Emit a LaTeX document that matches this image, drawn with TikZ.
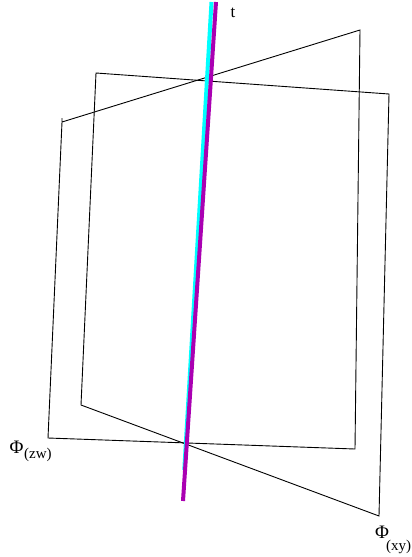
\documentclass[tikz,border=0pt]{standalone}
\usepackage{fontspec}
\setmainfont{Liberation Serif}
\definecolor{axiscyan}{RGB}{0,255,255}
\definecolor{axispurple}{RGB}{170,0,178}
\begin{document}
\begin{tikzpicture}[x=1pt,y=-1pt,
  plane/.style={draw=black,line width=0.9pt,line join=miter},
  axisline/.style={line width=4pt},
  lab/.style={inner sep=0pt,anchor=base west,font=\fontsize{17}{18}\selectfont},
  phi/.style={inner sep=0pt,anchor=base west,font=\fontsize{19}{20}\selectfont},
  sub/.style={inner sep=0pt,anchor=base west,font=\fontsize{15}{16}\selectfont}]
\useasboundingbox (0,0) rectangle (412,557);
\coordinate (a1) at (96,73);
\coordinate (a2) at (389,94);
\coordinate (a3) at (379,516);
\coordinate (a4) at (81,405);
\coordinate (b0) at (62,118);
\coordinate (b1) at (62,122);
\coordinate (b2) at (360,30);
\coordinate (b3) at (355,449);
\coordinate (b4) at (48,438);
\coordinate (c1) at (211.5,2);
\coordinate (c2) at (184.3,470);
\coordinate (d1) at (216,2);
\coordinate (d2) at (183,501);
\draw[plane] (a1) -- (a2) -- (a3) -- (a4) -- cycle;
\draw[plane] (b0) -- (b1) -- (b2) -- (b3) -- (b4) -- (b1);
\draw[axisline,axiscyan] (c1) -- (c2);
\draw[axisline,axispurple] (d1) -- (d2);
\node[lab] (t) at (230.5,17) {t};
\node[phi] (p1) at (9.5,453) {Φ};
\node[sub] (s1) at (24,458) {(zw)};
\node[phi] (p2) at (375,538) {Φ};
\node[sub] (s2) at (386,550) {(xy)};
\end{tikzpicture}
\end{document}
